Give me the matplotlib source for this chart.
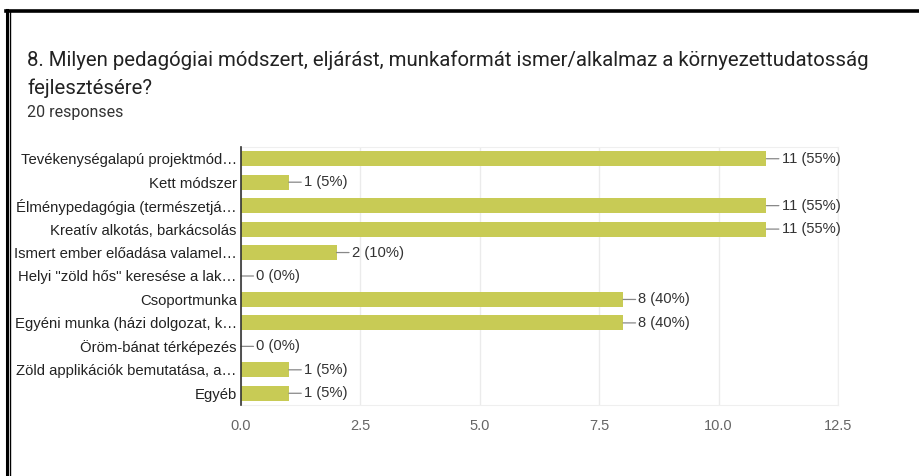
import matplotlib.pyplot as plt
from matplotlib.lines import Line2D

categories = [
    'Tevékenységalapú projektmód…',
    'Kett módszer',
    'Élménypedagógia (természetjá…',
    'Kreatív alkotás, barkácsolás',
    'Ismert ember előadása valamel…',
    'Helyi "zöld hős" keresése a lak…',
    'Csoportmunka',
    'Egyéni munka (házi dolgozat, k…',
    'Öröm-bánat térképezés',
    'Zöld applikációk bemutatása, a…',
    'Egyéb',
]
counts = [11, 1, 11, 11, 2, 0, 8, 8, 0, 1, 1]
total = 20
xticks = [0.0, 2.5, 5.0, 7.5, 10.0, 12.5]

title_lines = ['8. Milyen pedagógiai módszert, eljárást, munkaformát ismer/alkalmaz a környezettudatosság',
               'fejlesztésére?']
subtitle = '20 responses'

plt.rcParams['font.family'] = ['Liberation Sans', 'DejaVu Sans']

W, H = 919, 476
fig = plt.figure(figsize=(W / 100, H / 100), dpi=100)
ax = fig.add_axes([241 / W, 1 - 405 / H, (838 - 241) / W, (405 - 147) / H])

bar_color = '#c8cb55'
ypos = list(range(len(categories)))
ax.barh(ypos, counts, height=0.64, color=bar_color, zorder=2)

for y, c in zip(ypos, counts):
    pct = round(c / total * 100)
    ax.annotate(f'{c} ({pct}%)', xy=(c, y), xytext=(11, 0), textcoords='offset points',
                va='center', ha='left', fontsize=10.6, color='#333333',
                arrowprops=dict(arrowstyle='-', color='#888888', lw=0.9,
                                shrinkA=0, shrinkB=0))

ax.set_ylim(len(categories) - 0.5, -0.5)
ax.set_xlim(0, 12.5)
ax.set_xticks(xticks)
ax.set_xticklabels([f'{t:.1f}' for t in xticks])
ax.set_yticks(ypos)
ax.set_yticklabels(categories)
ax.tick_params(axis='y', length=0, pad=3, labelsize=10.7, labelcolor='#222222')
ax.tick_params(axis='x', length=0, pad=10, labelsize=10.5, labelcolor='#666666')
ax.grid(axis='x', color='#ebebeb', lw=1, zorder=0)
for s in ['top', 'right', 'bottom']:
    ax.spines[s].set_color('#efefef')
ax.spines['left'].set_color('#333333')
ax.spines['left'].set_linewidth(1.2)
ax.spines['left'].set_zorder(3)

fig.text(27 / W, 1 - 60 / H, title_lines[0], fontsize=14.7, family='Roboto', color='#222222', va='center', ha='left')
fig.text(27 / W, 1 - 88 / H, title_lines[1], fontsize=14.7, family='Roboto', color='#222222', va='center', ha='left')
fig.text(27 / W, 1 - 113 / H, subtitle, fontsize=11.5, family='Roboto', color='#333333', va='center', ha='left')

# screenshot frame: double line on the left, thick line on top
fig.add_artist(Line2D([7 / W, 7 / W], [0, 1 - 10 / H], color='black', lw=2.2))
fig.add_artist(Line2D([10 / W, 10 / W], [0, 1 - 12 / H], color='black', lw=1.0))
fig.add_artist(Line2D([6 / W, 1], [1 - 10.5 / H, 1 - 10.5 / H], color='black', lw=2.6))

fig.savefig('out.png', dpi=100)
